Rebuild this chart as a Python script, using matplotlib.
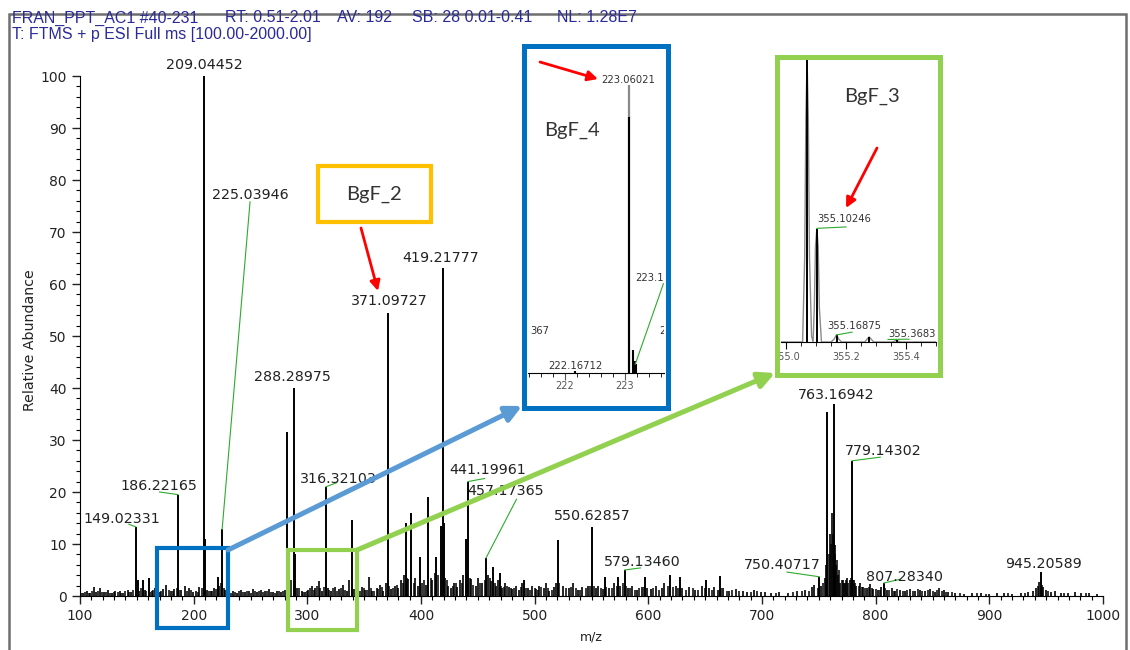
import matplotlib
matplotlib.use("Agg")
import matplotlib.pyplot as plt
from matplotlib.patches import Rectangle, FancyArrowPatch
from matplotlib.ticker import MultipleLocator
from matplotlib.transforms import Bbox, TransformedBbox

W, H = 1130, 650

# ---- labelled centroids (m/z, relative abundance) ----
peak_mz = [149.02331, 186.22165, 209.04452, 225.03946, 288.28975, 316.32103,
           371.09727, 419.21777, 441.19961, 457.17365, 550.62857, 579.13460,
           750.40717, 763.16942, 779.14302, 807.28340, 945.20589]
peak_int = [13.3, 19.5, 100, 12.8, 40, 21, 54.5, 63, 22, 7.3, 13.3, 5,
            3.7, 37, 26, 2.5, 4.6]

# ---- other visible peaks ----
other_mz = [151, 155, 160.5, 210.2, 221, 282.3, 289.5, 339.5, 386.5, 391,
            399.5, 406.5, 413.5, 417.5, 419.8, 439.5, 463, 469.5, 491, 520.5,
            562, 573.5, 597, 619.5, 627.5, 651, 663, 757.6]
other_int = [3, 3, 3.5, 11, 3.7, 31.5, 8, 14.6, 14, 16,
             7.5, 19, 7.5, 13.5, 14, 11, 5.6, 4.4, 3, 10.8,
             3.7, 3.7, 3.7, 4, 3.7, 3, 3.8, 35.4]

# ---- small peaks / baseline noise ----
noise_mz = [103, 106, 109, 112, 114, 118, 121, 125, 128, 131, 135, 138, 142, 145,
            152, 157, 163, 166, 170, 173, 176, 180, 183, 189, 192, 196, 199,
            202, 205, 212, 215, 218, 222, 228, 231, 235, 238, 242, 245, 249, 252,
            256, 259, 263, 266, 270, 273, 277, 280, 284, 291, 295, 298,
            301, 304, 307, 310, 313, 318, 321, 324, 328, 331, 335, 337, 341, 344,
            348, 351, 354, 357, 361, 364, 367, 369, 374, 377, 380, 382, 385, 389,
            395, 397, 404, 410, 412, 421, 424, 426, 429, 432, 434, 437, 444, 448,
            450, 454, 459, 462, 466, 468, 471, 474, 477, 480, 484, 486, 489, 494,
            498, 501, 504, 508, 510, 513, 517, 519, 525, 530, 534, 538, 542, 547,
            554, 556, 560, 565, 570, 575, 582, 586, 590, 594, 599, 602, 607, 612,
            614, 624, 630, 636, 641, 647, 653, 658, 661, 666, 671, 677, 683, 687,
            693, 699, 703, 708, 715, 723, 731, 738, 744, 746, 752, 755, 756, 759.5,
            761.5, 762.3, 764.5, 765.5, 767, 769, 771, 773, 775, 777, 781, 783,
            786, 789, 792, 795, 798, 802, 805, 810, 814, 817, 821, 826, 830, 835,
            839, 843, 848, 852, 856, 860, 864, 870, 878, 885, 893, 900, 907, 913,
            920, 928, 934, 938, 941, 944, 947, 950, 954, 958, 963, 969, 975, 981,
            988, 995]
noise_int = [0.6, 0.9, 0.5, 1.8, 0.8, 1.5, 0.7, 1.2, 0.6, 0.9, 1.0, 0.5, 1.1, 0.7,
             0.9, 1.2, 1.0, 1.6, 0.8, 1.3, 2.2, 0.9, 1.4, 1.1, 2.0, 1.5, 0.8,
             1.0, 1.8, 1.2, 0.9, 1.5, 2.0, 1.1, 0.7, 1.0, 0.6, 1.2, 0.8, 1.0, 1.4,
             0.8, 1.1, 0.9, 1.3, 0.7, 1.0, 0.8, 1.2, 2.5, 1.5, 1.0, 0.8,
             1.2, 2.0, 1.5, 2.8, 1.0, 1.5, 0.9, 1.8, 1.3, 2.2, 1.0, 3.0, 1.4, 0.9,
             1.7, 1.2, 3.7, 1.0, 1.5, 2.2, 1.0, 2.5, 1.3, 2.0, 1.5, 3.0, 4.0, 3.2,
             3.5, 2.0, 2.2, 3.0, 4.5, 3.5, 2.0, 1.5, 2.5, 1.8, 3.0, 4.0, 3.2, 2.0,
             3.5, 2.5, 4.0, 2.8, 2.0, 3.0, 1.5, 2.5, 1.8, 1.3, 2.0, 1.2, 2.5, 1.5,
             2.0, 1.3, 2.0, 1.5, 2.5, 1.0, 1.8, 2.5, 2.0, 1.5, 2.5, 1.2, 1.8, 2.0,
             1.5, 2.0, 1.3, 1.5, 2.5, 2.0, 1.5, 2.0, 1.2, 1.8, 1.5, 1.3, 2.0, 1.5,
             2.5, 2.0, 1.5, 1.8, 1.2, 2.0, 1.5, 1.8, 1.2, 1.5, 1.0, 1.4, 1.0, 0.8,
             1.2, 0.7, 0.8, 0.5, 0.7, 0.5, 0.9, 1.2, 1.8, 2.2, 2.0, 3.5, 6.0, 12,
             16, 12, 9.8, 6.0, 4.0, 2.5, 3.0, 2.5, 3.5, 3.0, 3.0, 2.0,
             2.5, 1.7, 1.5, 2.3, 1.4, 1.2, 1.8, 1.2, 1.5, 0.9, 1.2, 1.0, 1.4, 0.9,
             1.2, 1.0, 1.3, 0.8, 1.5, 1.2, 0.8, 0.6, 0.4, 0.5, 0.6, 0.4, 0.5, 0.6,
             0.4, 0.5, 0.8, 1.0, 1.5, 2.7, 1.8, 1.2, 0.8, 1.0, 0.6, 0.5, 0.7, 0.5,
             0.6, 0.4]

# finer baseline fuzz, (m/z, abundance) pairs
noise2 = [(101, 0.6), (104.5, 0.8), (107.5, 0.6), (110.5, 1.0), (116, 0.9), (119.5, 0.7),
          (123, 0.8), (126.5, 0.6), (129.5, 0.8), (133, 0.7), (136.5, 0.6), (140, 0.9),
          (143.5, 0.8), (147, 1.2), (153.5, 1.5), (158.5, 1.0), (161.5, 0.8), (164.5, 1.2),
          (168, 1.0), (171.5, 0.9), (178, 1.2), (181.5, 1.0), (185, 1.5), (187.5, 1.2),
          (194, 1.0), (197.5, 1.2), (203.5, 0.8), (207, 1.5), (213.5, 0.9), (216.5, 1.0),
          (220, 1.3), (224, 2.5), (226.5, 1.5), (230, 0.9), (233, 0.6), (236.5, 0.8),
          (240, 1.0), (243.5, 0.7), (247, 0.9), (250.5, 0.6), (254, 0.9), (257.5, 1.0),
          (261, 0.7), (264.5, 0.9), (268, 0.8), (271.5, 0.6), (275, 0.9), (278.5, 1.0),
          (286, 3.0), (293, 1.5), (296.5, 0.8), (299.5, 1.0), (302.5, 1.5), (305.5, 1.2),
          (308.5, 2.0), (311.5, 1.5), (315, 1.8), (319.5, 1.2), (322.5, 1.5), (326, 1.0),
          (329.5, 1.5), (333, 1.2), (339, 2.0), (342.5, 1.3), (346, 1.0), (349.5, 1.5),
          (352.5, 1.2), (356, 1.5), (359, 1.0), (362.5, 1.3), (366, 1.8), (372, 2.0),
          (375.5, 1.5), (378.5, 2.2), (384, 2.5), (388, 3.5), (393.5, 2.5), (401, 2.5),
          (403, 3.0), (408.5, 3.5), (415, 4.0), (423, 3.0), (428, 2.0), (431, 2.5),
          (436, 2.5), (440.5, 4.5), (443, 3.5), (446, 2.2), (452, 2.5), (456, 3.0),
          (461, 3.5), (465, 2.5), (470, 2.0), (473, 1.8), (476, 2.0), (479, 1.5),
          (482, 1.5), (488, 1.8), (492, 1.5), (496, 1.2), (500, 1.5), (503, 1.2),
          (506, 1.8), (512, 1.5), (515, 1.2), (521.5, 2.5), (528, 1.5), (532, 1.8),
          (536, 1.5), (540, 1.2), (545, 1.5), (549, 2.0), (552.5, 2.0), (558, 1.5),
          (563, 1.8), (568, 1.5), (572, 2.0), (578, 2.5), (580.5, 2.0), (584, 1.5),
          (588, 1.2), (592, 1.5), (596, 1.8), (604, 1.5), (609, 1.2), (617, 2.0),
          (622, 1.8), (626, 1.5), (633, 1.2), (639, 1.5), (644, 1.2), (650, 1.5),
          (656, 1.2), (664, 1.5), (669, 1.0), (674, 1.2), (680, 1.0), (690, 0.8),
          (696, 0.9), (712, 0.6), (727, 0.7), (735, 0.9), (741, 1.0), (749, 1.5),
          (754, 2.5), (758.8, 8), (760.5, 10), (763.8, 8), (766.2, 7), (768, 5),
          (770, 3), (772, 2.5), (774, 3), (776, 2.5), (778, 3.5), (780, 3),
          (782, 2.5), (785, 2), (788, 1.8), (791, 1.5), (794, 1.8), (797, 1.5),
          (800, 1.3), (804, 1.2), (808, 1.5), (812, 1.2), (816, 1.0), (819, 1.3),
          (824, 1.0), (828, 1.2), (833, 1.0), (837, 1.3), (841, 1.0), (846, 1.2),
          (850, 1.0), (854, 1.2), (858, 1.0), (862, 0.8), (867, 0.7), (874, 0.5),
          (889, 0.5), (897, 0.4), (916, 0.5), (931, 0.6), (943, 2.0), (946, 2.2),
          (952, 0.9), (966, 0.5), (985, 0.5)]

# ---- BgF_4 zoom (m/z 221.4-223.6) ----
bgf4_mz = [222.16712, 223.06021, 223.13, 223.17, 223.19]
bgf4_int = [0.6, 89, 8, 4, 3]
bgf4_prof_mz = [223.06021]
bgf4_prof_int = [100]

# ---- BgF_3 zoom (m/z 355.0-355.5) ----
bgf3_prof_mz = [354.983, 355.055, 355.062, 355.066, 355.070, 355.074, 355.078,
                355.085, 355.090, 355.094, 355.098, 355.1025, 355.107, 355.111,
                355.118, 355.150, 355.160, 355.168, 355.176, 355.185, 355.262,
                355.270, 355.277, 355.284, 355.292, 355.355, 355.368, 355.381, 355.5]
bgf3_prof_int = [0, 0, 30, 80, 100, 80, 30, 2, 0, 12, 34, 40, 34, 12,
                 0, 0, 1, 2.5, 1, 0, 0, 1, 1.8, 1, 0, 0, 0.6, 0, 0]
bgf3_mz = [355.070, 355.10246, 355.16875, 355.277, 355.3683]
bgf3_int = [100, 40, 2.5, 1.8, 0.6]

header1 = ["FRAN_PPT_AC1 #40-231", "RT: 0.51-2.01", "AV: 192", "SB: 28 0.01-0.41",
           "NL: 1.28E7"]
header1_x = [12, 225, 337, 412, 557]
header2 = "T: FTMS + p ESI Full ms [100.00-2000.00]"

# label placement (data coords) for the labelled peaks
label_pos = [(137, 14.0), (169.5, 20.4), (209, 101.3), (249.6, 76.3), (286.5, 41.3),
             (327, 21.7), (371.8, 56), (417.6, 64.2), (459, 23.5), (474.8, 19.4),
             (551, 14.6), (595, 5.8), (717.6, 5.2), (765, 37.9), (807, 27.1),
             (825, 2.9), (948, 5.4)]
# green leader lines: (peak index, end point)
leaders = {0: (143, 13.8), 1: (170, 20.0), 3: (249.6, 75.8), 5: (326, 21.8),
           8: (456, 22.6), 9: (484, 18.6), 11: (593, 5.4), 12: (722, 4.6),
           14: (804, 26.7), 15: (821, 3.2)}

BLUE = "#0070c0"
LBLUE = "#5b9bd5"
GREEN = "#92d050"
ORANGE = "#ffc000"
LEAD = "#2eaa2e"
NAVY = "#2a2a9a"


def fx(x):
    return x / W


def fy(y):
    return 1 - y / H


fig = plt.figure(figsize=(W / 100, H / 100), dpi=100)
fig.patch.set_facecolor("white")

# ---- main spectrum ----
ax = fig.add_axes([fx(80), fy(596), (1103 - 80) / W, (596 - 76) / H])
n2_mz = [p[0] for p in noise2]
n2_int = [p[1] for p in noise2]
ax.vlines(n2_mz, 0, n2_int, color="black", lw=1.1)
ax.vlines(noise_mz, 0, noise_int, color="black", lw=1.2)
ax.vlines(other_mz, 0, other_int, color="black", lw=1.4)
ax.vlines(peak_mz, 0, peak_int, color="black", lw=1.4)
ax.set_xlim(100, 1000)
ax.set_ylim(0, 100)
for s in ["top", "right"]:
    ax.spines[s].set_visible(False)
ax.xaxis.set_major_locator(MultipleLocator(100))
ax.xaxis.set_minor_locator(MultipleLocator(10))
ax.yaxis.set_major_locator(MultipleLocator(10))
ax.yaxis.set_minor_locator(MultipleLocator(2))
ax.tick_params(which="major", direction="out", length=6, width=1, labelsize=10,
               colors="#222222")
ax.tick_params(which="minor", direction="out", length=3, width=0.8)

for mz, (lx, ly) in zip(peak_mz, label_pos):
    ax.text(lx, ly, f"{mz:.5f}", ha="center", va="baseline", fontsize=10.3,
            color="#222222", clip_on=False)
for i, (ex, ey) in leaders.items():
    ax.plot([peak_mz[i], ex], [peak_int[i], ey], color=LEAD, lw=0.8, clip_on=False)

fig.text(fx(30), fy(340), "Relative Abundance", rotation=90, ha="center",
         va="center", fontsize=10.2, color="#222222")
fig.text(fx(591), fy(637), "m/z", ha="center", va="center", fontsize=9,
         color="#222222")

# ---- header ----
for txt, x in zip(header1, header1_x):
    fig.text(fx(x), fy(18), txt, ha="left", va="center", fontsize=11.5,
             family="Liberation Sans", color=NAVY)
fig.text(fx(12), fy(35), header2, ha="left", va="center", fontsize=11.5,
         family="Liberation Sans", color=NAVY)

# outer frame
fig.add_artist(Rectangle((fx(9), -0.05), (1126 - 9) / W, fy(14) + 0.05,
                         transform=fig.transFigure, fill=False,
                         edgecolor="#6e6e6e", lw=1.8, zorder=1))

# ---- small selection boxes on the spectrum ----
fig.add_artist(Rectangle((fx(157), fy(628)), 71 / W, 80 / H, transform=fig.transFigure,
                         fill=False, edgecolor=BLUE, lw=3, zorder=5))
fig.add_artist(Rectangle((fx(288), fy(630)), 69 / W, 80 / H, transform=fig.transFigure,
                         fill=False, edgecolor=GREEN, lw=3, zorder=5))

# ---- big arrows ----
fig.add_artist(FancyArrowPatch((fx(228), fy(550)), (fx(522), fy(406)),
                               transform=fig.transFigure, arrowstyle="-|>",
                               mutation_scale=24, lw=3.6, color=LBLUE,
                               shrinkA=0, shrinkB=0, zorder=5))
fig.add_artist(FancyArrowPatch((fx(357), fy(550)), (fx(775), fy(373)),
                               transform=fig.transFigure, arrowstyle="-|>",
                               mutation_scale=24, lw=3.6, color=GREEN,
                               shrinkA=0, shrinkB=0, zorder=5))

# ---- inset boxes (white fill under, coloured edge on top) ----
for (x0, y0, x1, y1, col) in [(524, 46, 668, 408, BLUE), (777, 57, 940, 375, GREEN)]:
    fig.add_artist(Rectangle((fx(x0), fy(y1)), (x1 - x0) / W, (y1 - y0) / H,
                             transform=fig.transFigure, facecolor="white",
                             edgecolor="none", zorder=2))
    fig.add_artist(Rectangle((fx(x0), fy(y1)), (x1 - x0) / W, (y1 - y0) / H,
                             transform=fig.transFigure, fill=False,
                             edgecolor=col, lw=3.6, zorder=6))

# BgF_2 box
fig.add_artist(Rectangle((fx(318), fy(222)), 113 / W, 56 / H, transform=fig.transFigure,
                         facecolor="white", edgecolor=ORANGE, lw=3, zorder=6))
fig.text(fx(374), fy(194), "BgF_2", ha="center", va="center", fontsize=14.5,
         family="Lato", color="#333333", zorder=7)

# ---- BgF_4 inset ----
ax4 = fig.add_axes([fx(528), fy(373), (664 - 528) / W, (373 - 52) / H], zorder=3)
ax4.patch.set_alpha(0)
ax4.vlines(bgf4_prof_mz, 0, bgf4_prof_int, color="#8a8a8a", lw=1.6)
ax4.vlines(bgf4_mz, 0, bgf4_int, color="black", lw=1.5)
ax4.set_xlim(221.383, 223.65)
ax4.set_ylim(0, 111.5)
for s in ["top", "right", "left"]:
    ax4.spines[s].set_visible(False)
ax4.set_yticks([])
ax4.xaxis.set_major_locator(MultipleLocator(1))
ax4.xaxis.set_minor_locator(MultipleLocator(0.2))
ax4.tick_params(which="major", direction="out", length=5, labelsize=7,
                colors="#555555", pad=1)
ax4.tick_params(which="minor", direction="out", length=3)
ax4.text(222.18, 1.4, "222.16712", ha="center", va="baseline", fontsize=7.2, color="#333333")
ax4.text(223.06021, 100.7, "223.06021", ha="center", va="baseline", fontsize=7.2,
         color="#333333", clip_on=True)
ax4.text(223.17, 32, "223.1", ha="left", va="baseline", fontsize=7.2, color="#333333",
         clip_on=True)
ax4.text(223.57, 13.5, "2", ha="left", va="baseline", fontsize=7.2, color="#333333",
         clip_on=True)
ax4.text(221.74, 13.5, "367", ha="right", va="baseline", fontsize=7.2, color="#333333",
         clip_on=True)
ax4.plot([223.17, 223.64], [3, 31], color=LEAD, lw=0.8)
ax4.text(222.12, 84.4, "BgF_4", ha="center", va="center", fontsize=14.5, family="Lato",
         color="#333333")

# ---- BgF_3 inset ----
ax3 = fig.add_axes([fx(781), fy(342), (936 - 781) / W, (342 - 60) / H], zorder=3)
ax3.patch.set_alpha(0)
ax3.plot(bgf3_prof_mz, bgf3_prof_int, color="#8a8a8a", lw=1.0)
ax3.vlines(bgf3_mz, 0, bgf3_int, color="black", lw=1.4)
ax3.set_xlim(354.983, 355.5)
ax3.set_ylim(0, 100)
for s in ["top", "right", "left"]:
    ax3.spines[s].set_visible(False)
ax3.set_yticks([])
ax3.xaxis.set_major_locator(MultipleLocator(0.2))
ax3.xaxis.set_minor_locator(MultipleLocator(0.05))
ax3.tick_params(which="major", direction="out", length=5, labelbottom=False)
ax3.tick_params(which="minor", direction="out", length=3)
clip3 = TransformedBbox(Bbox.from_extents(fx(780), fy(372), fx(937), fy(60)),
                        fig.transFigure)
for v in [355.0, 355.2, 355.4]:
    t = ax3.text(v, -0.053, f"{v:.1f}", transform=ax3.get_xaxis_transform(),
                 ha="center", va="center", fontsize=7, color="#555555")
    t.set_clip_box(clip3)
    t.set_clip_on(True)
ax3.text(355.1025, 42.5, "355.10246", ha="left", va="baseline", fontsize=7.2, color="#333333")
ax3.plot([355.1025, 355.2], [40.3, 40.8], color=LEAD, lw=0.8)
ax3.text(355.137, 4.5, "355.16875", ha="left", va="baseline", fontsize=7.2, color="#333333")
ax3.plot([355.168, 355.22], [2.5, 3.5], color=LEAD, lw=0.8)
t = ax3.text(355.34, 1.6, "355.3683", ha="left", va="baseline", fontsize=7.2,
             color="#333333")
t.set_clip_box(clip3)
t.set_clip_on(True)
ax3.plot([355.34, 355.41], [0.9, 1.0], color=LEAD, lw=0.8)
ax3.text(355.285, 87, "BgF_3", ha="center", va="center", fontsize=14.5, family="Lato",
         color="#333333")

# ---- red arrows ----
for (a, b) in [((540, 62), (598, 79)), ((361, 228), (378, 291)), ((877, 148), (846, 208))]:
    fig.add_artist(FancyArrowPatch((fx(a[0]), fy(a[1])), (fx(b[0]), fy(b[1])),
                                   transform=fig.transFigure, arrowstyle="-|>",
                                   mutation_scale=15, lw=2, color="#ff0000",
                                   shrinkA=0, shrinkB=0, zorder=8))

fig.savefig("out.png", dpi=100)
